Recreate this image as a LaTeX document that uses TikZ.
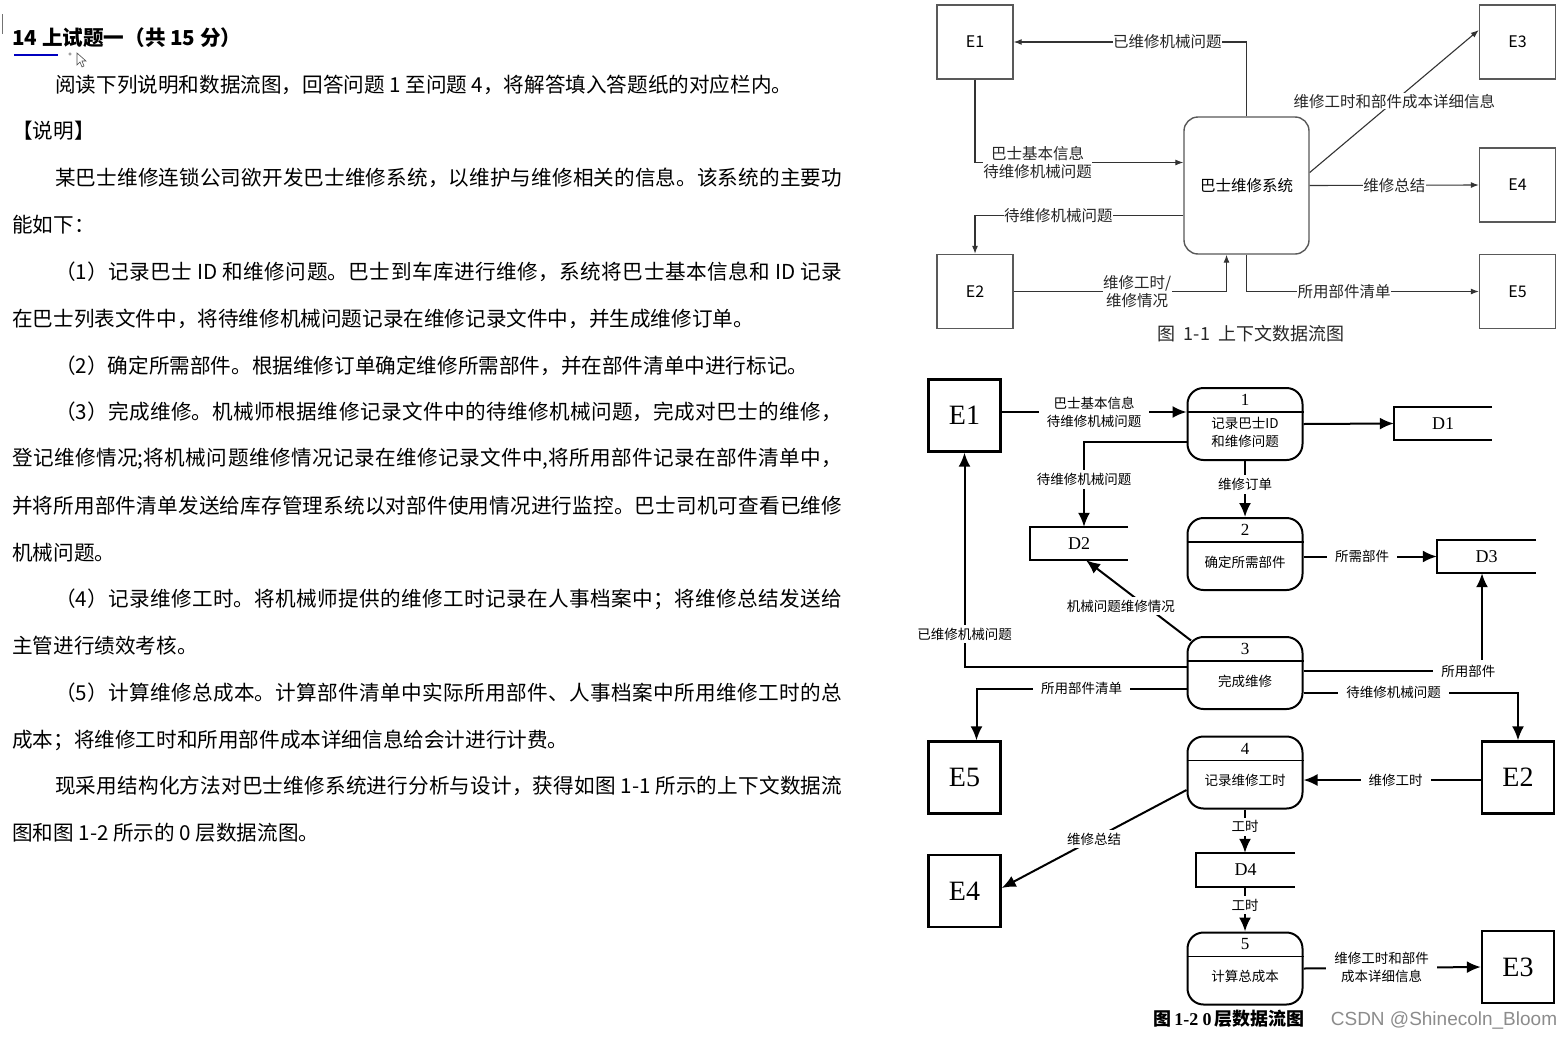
\documentclass[tikz,border=0pt]{standalone}
\usepackage{fontspec}
\newfontfamily\cjk{Noto Sans CJK SC}
\newfontfamily\tms{Liberation Serif}
\newfontfamily\arl{Liberation Sans}
\usetikzlibrary{arrows.meta}
\XeTeXlinebreaklocale "zh"
\XeTeXlinebreakskip=0pt plus 3pt
\newcommand\myjust[1]{\parfillskip=0pt\relax\noindent#1\par}
\begin{document}
\begin{tikzpicture}[x=1pt,y=-1pt,
  ln/.style={font=\cjk\fontsize{20.6}{24}\selectfont, inner sep=0pt, anchor=west},
  jl/.style={ln, text width=#1, align=justify},
  tbox/.style={draw=black!65, line width=1.4pt, minimum width=76pt, minimum height=74pt, inner sep=0pt, font=\cjk\fontsize{16}{18}\selectfont},
  tproc/.style={draw=black!65, line width=1.4pt, rounded corners=14pt, minimum width=125pt, minimum height=137pt, inner sep=0pt, font=\cjk\fontsize{15.5}{18}\selectfont},
  tarr/.style={draw=black!80, line width=1.1pt, -{Latex[length=8pt,width=6pt]}},
  tlab/.style={fill=white, inner sep=0.5pt, font=\cjk\fontsize{15.5}{18}\selectfont, text=black!85, align=center},
  bbox/.style={draw, line width=2.4pt, minimum width=72pt, minimum height=72pt, inner sep=0pt, font=\tms\fontsize{28}{30}\selectfont},
  bproc/.style={draw, line width=2pt, rounded corners=16pt, minimum width=115pt, minimum height=72pt, inner sep=0pt},
  bnum/.style={inner sep=0pt, font=\tms\fontsize{17}{17}\selectfont},
  btxt/.style={inner sep=0pt, font=\cjk\fontsize{13.5}{18}\selectfont, align=center},
  bstore/.style={minimum height=33pt, inner sep=0pt, font=\tms\fontsize{18}{18}\selectfont},
  sline/.style={line width=1.5pt},
  barr/.style={line width=2pt, -{Latex[length=14pt,width=12pt]}},
  blab/.style={fill=white, inner xsep=8pt, inner ysep=3pt, font=\cjk\fontsize{13.5}{18}\selectfont, align=center},
]
\fill[white] (0,0) rectangle (1568,1039);
\useasboundingbox (0,0) rectangle (1568,1039);

% ---------- left text ----------
\draw[black!55, line width=1pt] (2.5,14) -- (2.5,34);
\node[ln, font=\cjk\bfseries\fontsize{20.6}{24}\selectfont] (t0) at (12,38) {14 上试题一（共 15 分）};
\draw[blue!75!black, line width=2pt] (14,55) -- (58,55);
\draw[black!50, line width=0.5pt] (70,54) circle (1.2pt);
\draw[black!70, line width=0.6pt, fill=white] (77,53) -- (77,65) -- (80,62) -- (82,67) -- (84,66) -- (82,61) -- (86,61) -- cycle;
\node[ln] (t1) at (55,85) {阅读下列说明和数据流图，回答问题 1 至问题 4，将解答填入答题纸的对应栏内。};
\node[ln] (t2) at (12,131) {【说明】};
\node[jl=787pt] (t3) at (55,178) {\myjust{某巴士维修连锁公司欲开发巴士维修系统，以维护与维修相关的信息。该系统的主要功}};
\node[ln] (t4) at (12,225) {能如下：};
\node[jl=787pt] (t5) at (55,272) {\myjust{（1）记录巴士 ID 和维修问题。巴士到车库进行维修，系统将巴士基本信息和 ID 记录}};
\node[ln] (t6) at (12,319) {在巴士列表文件中，将待维修机械问题记录在维修记录文件中，并生成维修订单。};
\node[ln] (t7) at (55,366) {（2）确定所需部件。根据维修订单确定维修所需部件，并在部件清单中进行标记。};
\node[jl=787pt] (t8) at (55,412) {\myjust{（3）完成维修。机械师根据维修记录文件中的待维修机械问题，完成对巴士的维修，}};
\node[jl=830pt] (t9) at (12,459) {\myjust{登记维修情况;将机械问题维修情况记录在维修记录文件中,将所用部件记录在部件清单中，}};
\node[jl=830pt] (t10) at (12,506) {\myjust{并将所用部件清单发送给库存管理系统以对部件使用情况进行监控。巴士司机可查看已维修}};
\node[ln] (t11) at (12,553) {机械问题。};
\node[jl=787pt] (t12) at (55,599) {\myjust{（4）记录维修工时。将机械师提供的维修工时记录在人事档案中；将维修总结发送给}};
\node[ln] (t13) at (12,646) {主管进行绩效考核。};
\node[jl=787pt] (t14) at (55,693) {\myjust{（5）计算维修总成本。计算部件清单中实际所用部件、人事档案中所用维修工时的总}};
\node[ln] (t15) at (12,740) {成本；将维修工时和所用部件成本详细信息给会计进行计费。};
\node[jl=787pt] (t16) at (55,786) {\myjust{现采用结构化方法对巴士维修系统进行分析与设计，获得如图 1-1 所示的上下文数据流}};
\node[ln] (t17) at (12,833) {图和图 1-2 所示的 0 层数据流图。};

% ---------- Figure 1-1 ----------
\node[tbox] (E1) at (975,42) {E1};
\node[tbox] (E3) at (1517.5,42) {E3};
\node[tbox] (E4) at (1517.5,185) {E4};
\node[tbox] (E2) at (975,291.5) {E2};
\node[tbox] (E5) at (1517.5,291.5) {E5};
\node[tproc] (C) at (1246.5,185.5) {巴士维修系统};
\draw[tarr] (C.north) |- (E1.east) node[tlab,pos=0.67] {已维修机械问题};
\draw[tarr] (E1.south) |- ([yshift=23pt]C.west) node[tlab,pos=0.65] {巴士基本信息\\待维修机械问题};
\draw[tarr] ([yshift=-30pt]C.west) -| (E2.north) node[tlab,pos=0.3] {待维修机械问题};
\draw[tarr] (E2.east) -| ([xshift=-20pt]C.south) node[tlab,pos=0.29] {维修工时/\\维修情况};
\draw[tarr] (C.south) |- (E5.west) node[tlab,pos=0.71] {所用部件清单};
\draw[tarr] (C.east) -- (E4.west) node[tlab,midway] {维修总结};
\draw[tarr] ([yshift=13pt]C.east) -- ([yshift=12pt]E3.west) node[tlab,midway] {维修工时和部件成本详细信息};
\node[font=\cjk\fontsize{18}{18}\selectfont, text=black!85, inner sep=0pt] (cap1) at (1251,334) {图\ \ 1-1\ \ 上下文数据流图};

% ---------- Figure 1-2 ----------
\node[bbox] (bE1) at (964.5,415.5) {E1};
\node[bbox] (bE5) at (964.5,777.5) {E5};
\node[bbox] (bE4) at (964.5,891) {E4};
\node[bbox] (bE2) at (1518,777.5) {E2};
\node[bbox] (bE3) at (1518,967) {E3};

\node[bproc] (p1) at (1245,424) {};
\node[bproc] (p2) at (1245,554) {};
\node[bproc] (p3) at (1245,673) {};
\node[bproc] (p4) at (1245,772.5) {};
\node[bproc] (p5) at (1245,968.5) {};
\foreach \p/\n/\t in {p1/1/{记录巴士ID\\和维修问题}, p2/2/确定所需部件, p3/3/完成维修, p4/4/记录维修工时, p5/5/计算总成本}{
  \draw[line width=1.5pt] ([yshift=-25pt]\p.north west) -- ([yshift=-25pt]\p.north east);
  \node[bnum] (\p n) at ([yshift=-13pt]\p.north) {\n};
  \node[btxt] (\p t) at ([yshift=-8pt]\p.center) {\t};
}

\node[bstore, minimum width=98pt] (d1) at (1443,423.5) {D1};
\node[bstore, minimum width=98pt] (d2) at (1079,543.5) {D2};
\node[bstore, minimum width=99pt] (d3) at (1486.5,556.5) {D3};
\node[bstore, minimum width=99pt, minimum height=34pt] (d4) at (1245.5,870) {D4};
\foreach \d in {d1,d2,d3,d4}{
  \draw[sline] (\d.north east) -- (\d.north west) -- (\d.south west) -- (\d.south east);
}

\draw[barr] ([yshift=3.5pt]bE1.east) -- ([yshift=12pt]p1.west) node[blab,midway] {巴士基本信息\\待维修机械问题};
\draw[barr] (p1.east) -- (d1.west);
\draw[barr] ([yshift=-18pt]p1.west) -| ([xshift=5pt]d2.north) node[blab,pos=0.72] {待维修机械问题};
\draw[barr] (p1.south) -- (p2.north) node[blab,pos=0.42] {维修订单};
\draw[barr] ([yshift=-2.5pt]p2.east) -- (d3.west) node[blab,pos=0.44] {所需部件};
\draw[barr] ([shift={(4.5pt,-4.5pt)}]p3.north west) -- ([xshift=7pt]d2.south) node[blab,pos=0.43,xshift=-25pt] {机械问题维修情况};
\draw[barr] ([yshift=6.5pt]p3.west) -| (bE1.south) node[blab,pos=0.576] {已维修机械问题};
\draw[barr] ([yshift=-15.5pt]p3.west) -| ([xshift=12pt]bE5.north) node[blab,pos=0.25] {所用部件清单};
\draw[barr] ([yshift=2pt]p3.east) -| ([xshift=-4.5pt]d3.south) node[blab,pos=0.462,inner ysep=5pt] {所用部件};
\draw[barr] ([yshift=-19.5pt]p3.east) -| (bE2.north) node[blab,pos=0.21] {待维修机械问题};
\draw[barr] ([yshift=-2.5pt]bE2.west) -- ([yshift=-7.5pt]p4.east) node[blab,pos=0.48] {维修工时};
\draw[barr] ([yshift=-17.5pt]p4.west) -- ([yshift=3pt]bE4.east) node[blab,midway] {维修总结};
\draw[barr] (p4.south) -- (d4.north -| p4.south) node[blab,pos=0.4] {工时};
\draw[barr] (d4.south -| p5.north) -- (p5.north) node[blab,pos=0.4] {工时};
\draw[barr] (p5.east) -- (bE3.west) node[blab,pos=0.44] {维修工时和部件\\成本详细信息};

\node[font=\cjk\bfseries\fontsize{18}{18}\selectfont, inner sep=0pt] (cap2) at (1229,1019) {图\hspace{3pt}{\tms\bfseries 1-2 0}\hspace{3pt}层数据流图};
\node[font=\arl\fontsize{19}{19}\selectfont, text=black!45, inner sep=0pt] (wm) at (1444,1020) {CSDN @Shinecoln\_Bloom};
\end{tikzpicture}
\end{document}
